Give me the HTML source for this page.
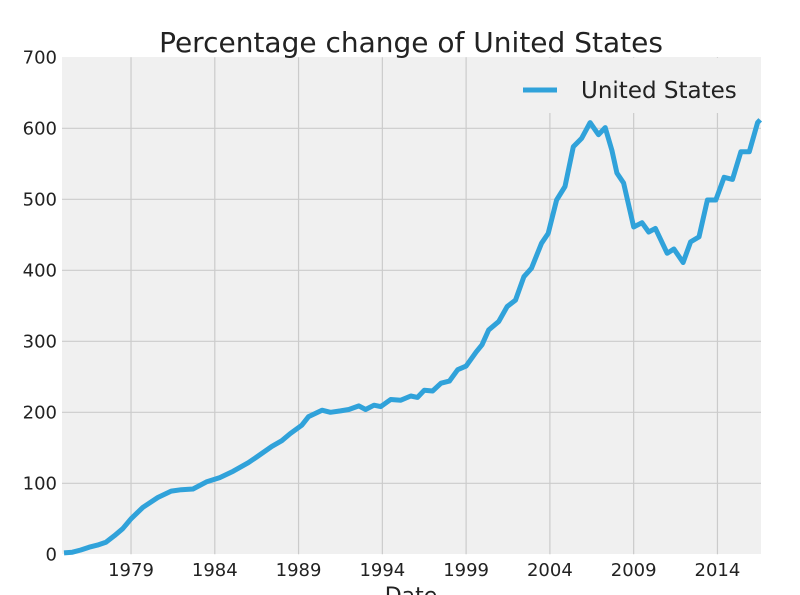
<!DOCTYPE html>
<html><head><meta charset="utf-8"><style>
body{margin:0;background:#fff;}
svg{display:block;font-family:"DejaVu Sans","Liberation Sans",sans-serif;}
</style></head><body>
<svg id="chart" width="800" height="595" viewBox="0 0 800 595" xmlns="http://www.w3.org/2000/svg">
<rect x="62" y="57" width="699" height="497" fill="#f0f0f0"/>
<g id="grid"></g>
<rect x="508" y="58" width="252" height="55" fill="#f0f0f0"/>
<g id="series"></g>
<g id="ticks"></g>
<text x="411" y="52" font-size="28" text-anchor="middle" fill="#222">Percentage change of United States</text>
<text x="411" y="603" font-size="22" text-anchor="middle" fill="#222">Date</text>
<g>
<line x1="523" y1="90" x2="557" y2="90" stroke="#30a2da" stroke-width="5"/>
<text x="581" y="98" font-size="23" fill="#222">United States</text>
</g>
</svg>
<script>
const years = [1975.0,1975.5,1976.0,1976.5,1977.0,1977.5,1978.0,1978.5,1979.0,1979.7,1980.6,1981.4,1982.0,1982.7,1983.5,1984.3,1985.1,1986.0,1986.5,1987.4,1988.0,1988.5,1989.2,1989.6,1990.4,1990.9,1991.5,1992.0,1992.6,1993.0,1993.5,1993.9,1994.5,1995.1,1995.7,1996.1,1996.5,1997.0,1997.5,1998.0,1998.5,1999.0,1999.6,1999.95,2000.35,2000.95,2001.45,2001.95,2002.45,2002.9,2003.5,2003.9,2004.4,2004.9,2005.4,2005.9,2006.4,2006.9,2007.3,2007.7,2008.0,2008.4,2009.0,2009.5,2009.9,2010.3,2011.0,2011.4,2011.95,2012.4,2012.9,2013.4,2013.9,2014.4,2014.9,2015.4,2015.9,2016.4,2016.55];
const values = [2,3,6,10,13,17,26,36,50,66,80,89,91,92,102,108,117,129,137,152,160,170,182,194,203,200,202,204,209,204,210,208,218,217,223,221,231,230,241,244,260,265,285,295,316,328,349,358,391,403,438,452,499,518,574,586,608,591,601,569,537,523,461,467,454,459,424,430,411,440,447,499,499,531,528,567,567,608,612];
const yTicks = [0,100,200,300,400,500,600,700];
const xTicks = [1979,1984,1989,1994,1999,2004,2009,2014];
const NS="http://www.w3.org/2000/svg";
const X0=62,X1=761,Y0=554.3,Y1=57.3;
const xMin=1974.88,xMax=2016.6;
function xs(v){return X0+(v-xMin)/(xMax-xMin)*(X1-X0);}
function ys(v){return Y0-(v/700)*(Y0-Y1);}
const grid=document.getElementById('grid'),ticks=document.getElementById('ticks'),series=document.getElementById('series');
yTicks.forEach(t=>{
 if(t>0&&t<700){const l=document.createElementNS(NS,'line');
 
 
 l.setAttribute('x1',X0);l.setAttribute('x2',X1);l.setAttribute('y1',ys(t));l.setAttribute('y2',ys(t));
 l.setAttribute('stroke','#cbcbcb');l.setAttribute('stroke-width','1.2');grid.appendChild(l);}
 const tx=document.createElementNS(NS,'text');
 
 
 tx.setAttribute('x',X0-5);tx.setAttribute('y',ys(t)+6);tx.setAttribute('text-anchor','end');tx.setAttribute('font-size','18');tx.setAttribute('fill','#222');
 tx.textContent=t;ticks.appendChild(tx);
});
xTicks.forEach(t=>{
 const l=document.createElementNS(NS,'line');
 
 
 l.setAttribute('x1',xs(t));l.setAttribute('x2',xs(t));l.setAttribute('y1',Y1);l.setAttribute('y2',Y0);
 l.setAttribute('stroke','#cbcbcb');l.setAttribute('stroke-width','1.2');grid.appendChild(l);
 const tx=document.createElementNS(NS,'text');
 
 
 tx.setAttribute('x',xs(t));tx.setAttribute('y',576);tx.setAttribute('text-anchor','middle');tx.setAttribute('font-size','18');tx.setAttribute('fill','#222');
 tx.textContent=t;ticks.appendChild(tx);
});
const p=document.createElementNS(NS,'polyline');


p.setAttribute('points',years.map((y,i)=>xs(y).toFixed(1)+','+ys(values[i]).toFixed(1)).join(' '));
p.setAttribute('fill','none');p.setAttribute('stroke','#30a2da');p.setAttribute('stroke-width','5');p.setAttribute('stroke-linejoin','round');
series.appendChild(p);
</script>
</body></html>
